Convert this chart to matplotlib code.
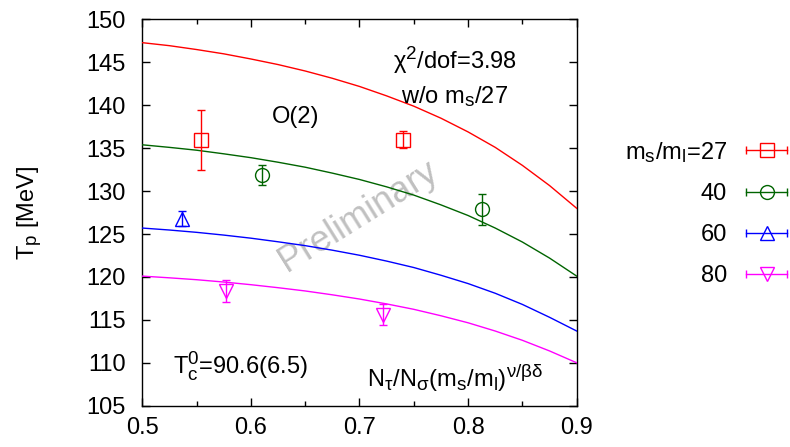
import numpy as np
import matplotlib
matplotlib.use("Agg")
import matplotlib.pyplot as plt
import matplotlib._mathtext as mt
from matplotlib.lines import Line2D
from matplotlib.legend_handler import HandlerLine2D, HandlerTuple

plt.rcParams['font.family'] = ['Liberation Sans', 'DejaVu Sans']
plt.rcParams['mathtext.fontset'] = 'custom'
plt.rcParams['mathtext.rm'] = 'Liberation Sans'
plt.rcParams['mathtext.it'] = 'Liberation Sans'
plt.rcParams['mathtext.sf'] = 'Liberation Sans'
mt.SHRINK_FACTOR = 0.8  # gnuplot-like bigger sub/superscripts

# fit curves
x_fit = [0.5, 0.525, 0.55, 0.575, 0.6, 0.625, 0.65, 0.675, 0.7,
         0.725, 0.75, 0.775, 0.8, 0.825, 0.85, 0.875, 0.9]
fit_27 = [147.3, 146.95, 146.5, 146.0, 145.4, 144.75, 144.0, 143.15, 142.2,
          141.1, 139.9, 138.5, 136.9, 135.1, 133.0, 130.65, 128.0]
fit_40 = [135.4, 135.1, 134.77, 134.35, 133.9, 133.37, 132.79, 132.1, 131.36,
          130.5, 129.54, 128.4, 127.16, 125.7, 124.07, 122.2, 120.1]
fit_60 = [125.7, 125.47, 125.2, 124.88, 124.52, 124.1, 123.65, 123.12, 122.53,
          121.85, 121.1, 120.2, 119.23, 118.1, 116.8, 115.3, 113.7]
fit_80 = [120.1, 119.9, 119.68, 119.41, 119.1, 118.75, 118.37, 117.92, 117.43,
          116.86, 116.23, 115.48, 114.66, 113.7, 112.62, 111.38, 110.0]

# lattice points
x_27 = [0.554, 0.740]
t_27 = [136.0, 136.0]
e_27 = [3.5, 0.95]
x_40 = [0.610, 0.813]
t_40 = [131.9, 127.9]
e_40 = [1.15, 1.8]
x_60 = [0.537]
t_60 = [126.8]
e_60 = [0.83]
x_80 = [0.577, 0.722]
t_80 = [118.35, 115.6]
e_80 = [1.3, 1.2]

labels = [r'm$_\mathrm{s}$/m$_\mathrm{l}$=27', '40', '60', '80']
colors = ['#ff0000', '#006400', '#0000ff', '#ff00ff']
markers = ['s', 'o', '^', 'v']
fs = 17

fig = plt.figure(figsize=(7.9, 4.47), dpi=100)
ax = fig.add_axes([0.180, 0.0924, 0.550, 0.864])

series = [(x_27, t_27, e_27, fit_27), (x_40, t_40, e_40, fit_40),
          (x_60, t_60, e_60, fit_60), (x_80, t_80, e_80, fit_80)]

handles = []
hmap = {}
for (xs, ts, es, fit), c, m, lab in zip(series, colors, markers, labels):
    ax.plot(x_fit, fit, color=c, lw=1.0, zorder=3)
    ax.errorbar(xs, ts, yerr=es, fmt=m, mfc='none', mec=c, mew=1.0, ms=10,
                ecolor=c, elinewidth=1.0, capsize=3, capthick=1.0, zorder=4)
    caps = Line2D([], [], color=c, lw=1.0, marker='|', ms=6, mew=1.0)
    mark = Line2D([], [], color=c, ls='none', marker=m, mfc='none', ms=10, mew=1.0)
    hmap[caps] = HandlerLine2D(numpoints=2, marker_pad=0)
    hmap[mark] = HandlerLine2D(numpoints=1)
    handles.append((caps, mark))

hmap[tuple] = HandlerTuple(ndivide=1, pad=0)
leg = fig.legend(handles, labels, handler_map=hmap, loc='upper left',
                 bbox_to_anchor=(0.764, 0.735), frameon=False, markerfirst=False,
                 fontsize=fs, handlelength=1.75, handletextpad=0.8, labelspacing=0.8)

ax.set_xlim(0.5, 0.9)
ax.set_ylim(105, 150)
ax.set_xticks(np.arange(0.5, 0.91, 0.1))
ax.set_xticklabels(['0.5', '0.6', '0.7', '0.8', '0.9'])
ax.set_xticks(np.arange(0.55, 0.9, 0.1), minor=True)
ax.set_yticks(np.arange(105, 151, 5))
ax.tick_params(axis='both', which='both', direction='in', top=True, right=True, labelsize=fs)
ax.tick_params(axis='both', which='major', length=6, width=1, pad=8)
ax.tick_params(axis='y', which='major', pad=12)
ax.tick_params(axis='x', which='minor', length=3.5, width=1)
for s in ax.spines.values():
    s.set_linewidth(1.0)

ax.set_ylabel(r'T$_\mathrm{p}$ [MeV]', fontsize=fs, labelpad=30)

ax.text(0.788, 145.3, r'χ$^2$/dof=3.98', fontsize=fs, ha='center', va='center')
ax.text(0.788, 141.0, r'w/o m$_\mathrm{s}$/27', fontsize=fs, ha='center', va='center')
ax.text(0.641, 138.6, 'O(2)', fontsize=fs, ha='center', va='center')
ax.text(0.590, 109.6, r'T$_\mathrm{c}^0$=90.6(6.5)', fontsize=fs, ha='center', va='center')
ax.text(0.788, 108.3, r'N$_\mathrm{τ}$/N$_\mathrm{σ}$(m$_\mathrm{s}$/m$_\mathrm{l}$)$^{\mathrm{ν/βδ}}$',
        fontsize=fs, ha='center', va='center')
ax.text(0.699, 127.1, 'Preliminary', fontsize=26, color='#c0c0c0', rotation=32,
        ha='center', va='center', zorder=1)

fig.savefig('out.png', dpi=100)
